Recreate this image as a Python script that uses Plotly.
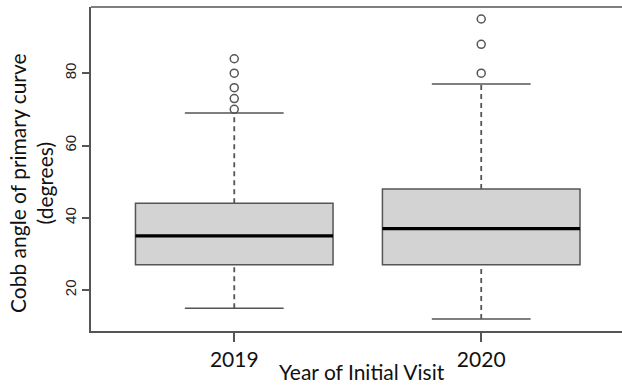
import plotly.graph_objects as go

# Summary statistics for the Cobb angle (degrees) by year of initial visit
years = ["2019", "2020"]
positions = [1, 2]
lower_whisker = [15, 12]
q1 = [27, 27]
median = [35, 37]
q3 = [44, 48]
upper_whisker = [69, 77]
outliers = [[70, 73, 76, 80, 84], [80, 88, 95]]

BOX_HALF = 0.4
STAPLE_HALF = 0.2
LINE = "#555555"
FILL = "#d3d3d3"

fig = go.Figure()
shapes = []

for i, pos in enumerate(positions):
    # dashed whiskers
    for y0, y1 in [(q3[i], upper_whisker[i]), (lower_whisker[i], q1[i])]:
        fig.add_trace(go.Scatter(
            x=[pos, pos], y=[y0, y1], mode="lines",
            line=dict(color=LINE, width=1.8, dash="5px,4px"),
            hoverinfo="skip", showlegend=False))
    # staples
    for yv in [upper_whisker[i], lower_whisker[i]]:
        fig.add_trace(go.Scatter(
            x=[pos - STAPLE_HALF, pos + STAPLE_HALF], y=[yv, yv], mode="lines",
            line=dict(color=LINE, width=1.5),
            hoverinfo="skip", showlegend=False))
    # box
    shapes.append(dict(type="rect", xref="x", yref="y",
                       x0=pos - BOX_HALF, x1=pos + BOX_HALF, y0=q1[i], y1=q3[i],
                       fillcolor=FILL, line=dict(color=LINE, width=1.5), layer="above"))
    # median
    shapes.append(dict(type="line", xref="x", yref="y",
                       x0=pos - BOX_HALF, x1=pos + BOX_HALF, y0=median[i], y1=median[i],
                       line=dict(color="#000000", width=3.2), layer="above"))
    # outlying points
    fig.add_trace(go.Scatter(
        x=[pos] * len(outliers[i]), y=outliers[i], mode="markers",
        marker=dict(symbol="circle-open", size=8, color=LINE, line=dict(width=1.5)),
        hoverinfo="skip", showlegend=False))

# top frame line
shapes.append(dict(type="line", xref="paper", yref="paper", x0=0, x1=1, y0=1, y1=1,
                   line=dict(color=LINE, width=1.5)))

fig.update_layout(
    width=622, height=385,
    margin=dict(l=91, r=0, t=7, b=54),
    plot_bgcolor="white", paper_bgcolor="white",
    shapes=shapes,
    xaxis=dict(range=[0.42, 2.57], tickvals=positions, ticktext=years,
               showgrid=False, zeroline=False, showline=True, linecolor=LINE, linewidth=1.5,
               ticks="outside", ticklen=9, tickwidth=1.5, tickcolor=LINE,
               tickfont=dict(family="Lato", size=21, color="#111111")),
    yaxis=dict(range=[8.68, 98.32], tickvals=[20, 40, 60, 80],
               showgrid=False, zeroline=False, showline=True, linecolor=LINE, linewidth=1.5,
               ticks="outside", ticklen=7, tickwidth=1.5, tickcolor=LINE, tickangle=-90,
               tickfont=dict(family="Liberation Sans", size=15, color="#222222")),
    annotations=[
        dict(text="Year of Initial Visit", xref="paper", yref="paper",
             x=(362 - 91) / 531, y=-(372 - 331) / 324, xanchor="center", yanchor="middle",
             showarrow=False, font=dict(family="Lato", size=21, color="#111111")),
        dict(text="Cobb angle of primary curve<br>(degrees)", xref="paper", yref="paper",
             x=-(91 - 31) / 531, y=(331 - 183) / 324, xanchor="center", yanchor="middle",
             textangle=-90, showarrow=False,
             font=dict(family="Lato", size=21, color="#111111")),
    ],
)

fig.write_html("out.html")
